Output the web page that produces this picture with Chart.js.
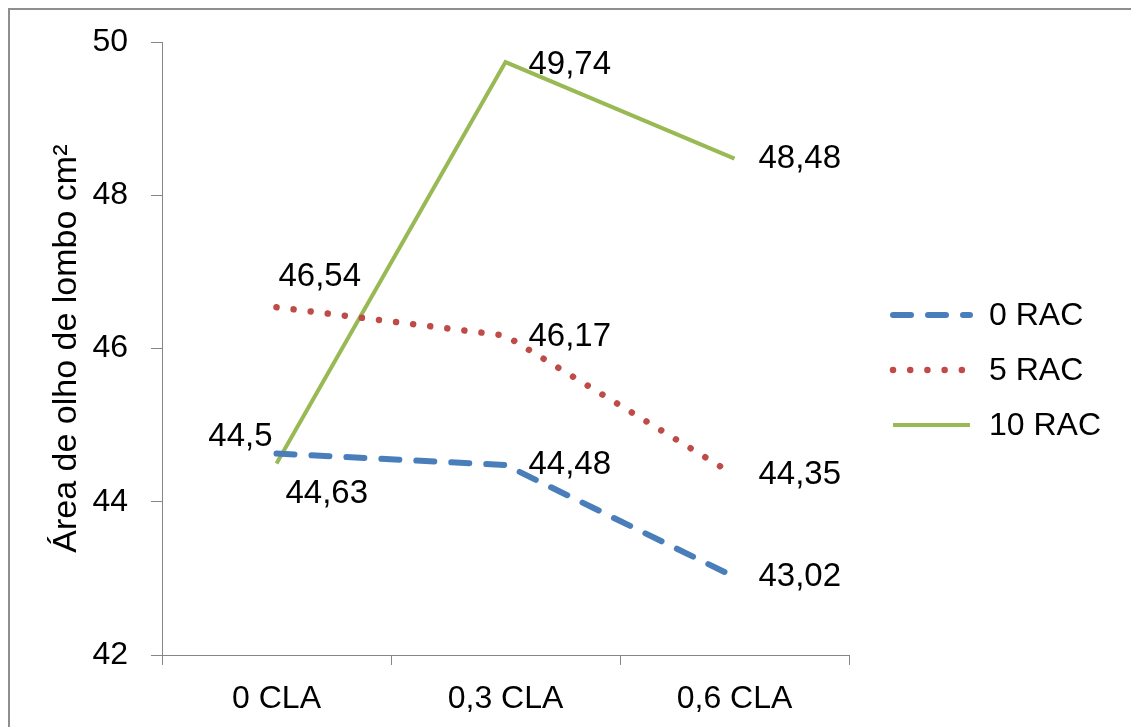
<!DOCTYPE html>
<html>
<head>
<meta charset="utf-8">
<script src="https://cdn.jsdelivr.net/npm/chart.js@4"></script>
<style>
html, body { margin: 0; padding: 0; background: #fff; }
#wrap { position: relative; width: 1131px; height: 727px; overflow: hidden; }
#frame { position: absolute; left: 8px; top: 8px; width: 1200px; height: 800px;
         border-top: 2px solid #8e8e8e; border-left: 2px solid #8e8e8e; }
canvas { position: absolute; left: 0; top: 0; }
</style>
</head>
<body>
<div id="wrap">
  <div id="frame"></div>
  <canvas id="chart" width="1131" height="727"></canvas>
</div>
<script>
// values
const categories = ['0 CLA', '0,3 CLA', '0,6 CLA'];
const seriesNames = ['0 RAC', '5 RAC', '10 RAC'];
const rac0 = [44.63, 44.48, 43.02];
const rac5 = [46.54, 46.17, 44.35];
const rac10 = [44.5, 49.74, 48.48];
const yTicks = [42, 44, 46, 48, 50];
const yTitle = 'Área de olho de lombo cm²';

// where each value label sits relative to its point [dx, dy, align]
const labelOffsets = [
    [[9, 40, 'left'], [23, 0, 'left'], [24, 0, 'left']],
    [[2, -30, 'left'], [23, 1, 'left'], [24, 0, 'left']],
    [[-4, -27, 'right'], [23, 3, 'left'], [24, 0, 'left']]
];

const fontFamily = '"Liberation Sans", Arial, sans-serif';
const axisGray = '#868686';
const mainFont = { family: fontFamily, size: 32 };

const ctx = document.getElementById('chart');

const valueLabels = {
    id: 'valueLabels',
    afterDatasetsDraw(chart) {
        const c = chart.ctx;
        c.save();
        c.font = '33px ' + fontFamily;
        c.fillStyle = '#000';
        c.textBaseline = 'middle';
        chart.data.datasets.forEach((ds, i) => {
            const meta = chart.getDatasetMeta(i);
            meta.data.forEach((pt, j) => {
                const off = labelOffsets[i][j];
                c.textAlign = off[2];
                c.fillText(String(ds.data[j]).replace('.', ','), pt.x + off[0], pt.y + off[1]);
            });
        });
        c.restore();
    }
};

// legend drawn by hand so it can sit where the original has it
const sideLegend = {
    id: 'sideLegend',
    afterDraw(chart) {
        const c = chart.ctx;
        const x0 = 893, x1 = 970, top = 315, step = 55;
        c.save();
        chart.data.datasets.forEach((ds, i) => {
            const y = top + i * step;
            c.beginPath();
            c.strokeStyle = ds.borderColor;
            c.lineWidth = ds.borderWidth;
            c.lineCap = ds.borderCapStyle || 'butt';
            c.setLineDash(ds.borderDash || []);
            c.moveTo(x0, y);
            c.lineTo(x1, y);
            c.stroke();
            c.setLineDash([]);
            c.font = '32px ' + fontFamily;
            c.fillStyle = '#000';
            c.textAlign = 'left';
            c.textBaseline = 'middle';
            c.fillText(ds.label, 989, y + 1);
        });
        c.restore();
    }
};

new Chart(ctx, {
    type: 'line',
    data: {
        labels: categories,
        datasets: [{
            label: seriesNames[0],
            data: rac0,
            borderColor: '#4a7ebb',
            borderWidth: 6,
            borderDash: [18, 17],
            borderCapStyle: 'round',
            pointRadius: 0,
            tension: 0
        }, {
            label: seriesNames[1],
            data: rac5,
            borderColor: '#be4b48',
            borderWidth: 6.5,
            borderDash: [0.01, 17.2],
            borderCapStyle: 'round',
            pointRadius: 0,
            tension: 0
        }, {
            label: seriesNames[2],
            data: rac10,
            borderColor: '#98b954',
            borderWidth: 4,
            borderCapStyle: 'butt',
            pointRadius: 0,
            tension: 0
        }]
    },
    options: {
        responsive: false,
        animation: false,
        layout: { padding: { left: 10, right: 282, top: 0, bottom: 0 } },
        plugins: {
            legend: { display: false },
            tooltip: { enabled: false }
        },
        scales: {
            x: {
                offset: true,
                grid: { offset: true, drawOnChartArea: false, tickLength: 10, color: axisGray },
                border: { color: axisGray, width: 1 },
                ticks: { padding: 15, color: '#000', font: mainFont },
                afterFit: s => { s.height = 72; }
            },
            y: {
                min: 42,
                max: 50,
                afterBuildTicks: s => { s.ticks = yTicks.map(v => ({ value: v })); },
                grid: { drawOnChartArea: false, tickLength: 11, color: axisGray },
                border: { color: axisGray, width: 1 },
                ticks: { padding: 23, color: '#000', font: mainFont },
                title: {
                    display: true,
                    text: yTitle,
                    color: '#000',
                    font: { family: fontFamily, size: 34 },
                    padding: { top: 36, bottom: 0 }
                },
                afterFit: s => { s.width = 152; }
            }
        }
    },
    plugins: [valueLabels, sideLegend]
});
</script>
</body>
</html>
